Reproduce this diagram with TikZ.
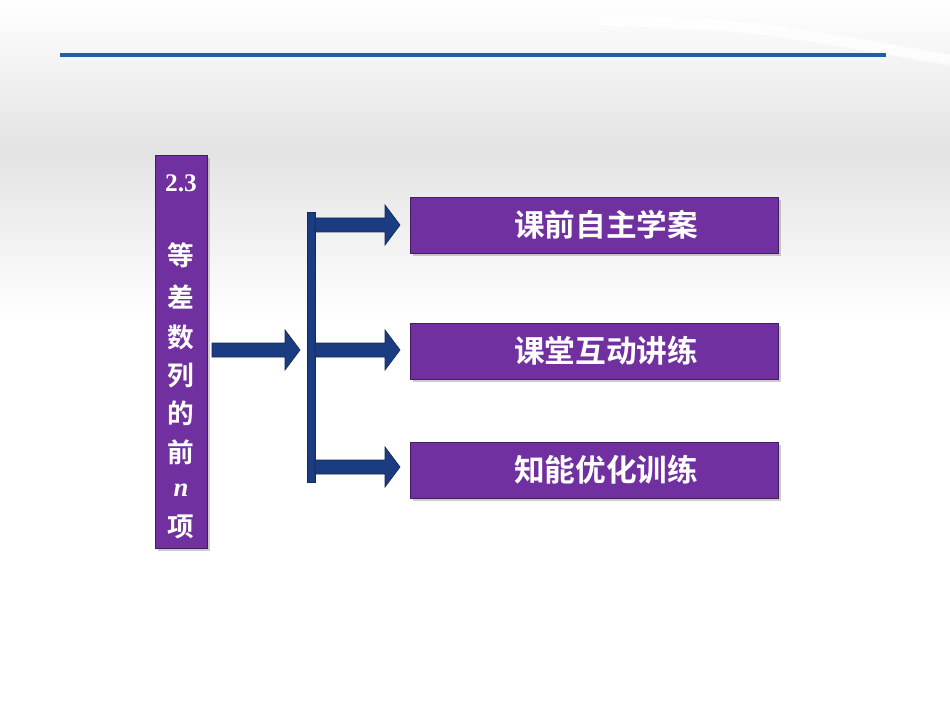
\documentclass[tikz,border=0pt]{standalone}
\usepackage{fontspec}
\newfontfamily\cjk{Noto Sans CJK SC}[BoldFont={Noto Sans CJK SC Bold}]
\setmainfont{Liberation Serif}
\definecolor{purp}{HTML}{7030A0}
\definecolor{navy}{HTML}{1B3C80}
\definecolor{lineblue}{HTML}{1F5FA8}
\usetikzlibrary{shadows}
\tikzset{
  pbox/.style={fill=purp,draw=purp!60!black,line width=0.6pt,drop shadow={opacity=0.4}},
  ptext/.style={text=white,font=\cjk\bfseries\fontsize{23}{26}\selectfont},
  ltext/.style={text=white,font=\cjk\bfseries\fontsize{20}{22}\selectfont},
  fatarrow/.style={fill=navy,draw=navy!70!black,line width=0.5pt}
}
\begin{document}
\begin{tikzpicture}[x=0.75pt,y=-0.75pt]
\useasboundingbox (0,0) rectangle (950,713);
\shade[top color=white,bottom color=black!11] (0,0) rectangle (950,150);
\shade[top color=black!11,bottom color=white] (0,150) rectangle (950,320);
\fill[white] (0,320) rectangle (950,713);
\draw[white,line width=8pt,opacity=0.8] (600,20) .. controls (750,25) .. (950,60);
\draw[lineblue,line width=2.4pt] (60,55) coordinate (l1) -- (886,55) coordinate (l2);
% left box
\node[pbox,minimum width=52*0.75pt,minimum height=393*0.75pt,anchor=north west,inner sep=0] (left) at (155,155) {};
\begin{scope}
\clip (155,155) rectangle (207,548);
\node[text=white,font=\bfseries\fontsize{19}{20}\selectfont] (t0) at (181,183) {2.3};
\foreach \c/\y [count=\i] in {等/255,差/297,数/337,列/376,的/413,前/452} {
  \node[ltext] (c\i) at (181,\y) {\c};}
\node[text=white,font=\bfseries\itshape\fontsize{20}{20}\selectfont] (cn) at (181,490) {n};
\node[ltext] (c7) at (181,527) {项};
\node[ltext] (c8) at (181,566) {和};
\end{scope}
% boxes
\foreach \t/\y/\n in {课前自主学案/225/b1,课堂互动讲练/351/b2,知能优化训练/470/b3}{
  \node[pbox,minimum width=368*0.75pt,minimum height=56*0.75pt,inner sep=0] (\n) at (594,\y) {};
  \node[ptext] at (606,\y) {\t};
}
% bar
\fill[navy,draw=navy!70!black] (307,212) rectangle (315,482);
\coordinate (bar) at (311,350);
% arrows
\newcommand\fatarr[3]{% x1 x2 y
  \draw[fatarrow] (#1,#3-7) -- (#2-15,#3-7) -- (#2-15,#3-20) -- (#2,#3) -- (#2-15,#3+20) -- (#2-15,#3+7) -- (#1,#3+7) -- cycle;}
\fatarr{212}{300}{350}
\fatarr{315}{400}{225}
\fatarr{315}{400}{350}
\fatarr{315}{400}{467}
\end{tikzpicture}
\end{document}
